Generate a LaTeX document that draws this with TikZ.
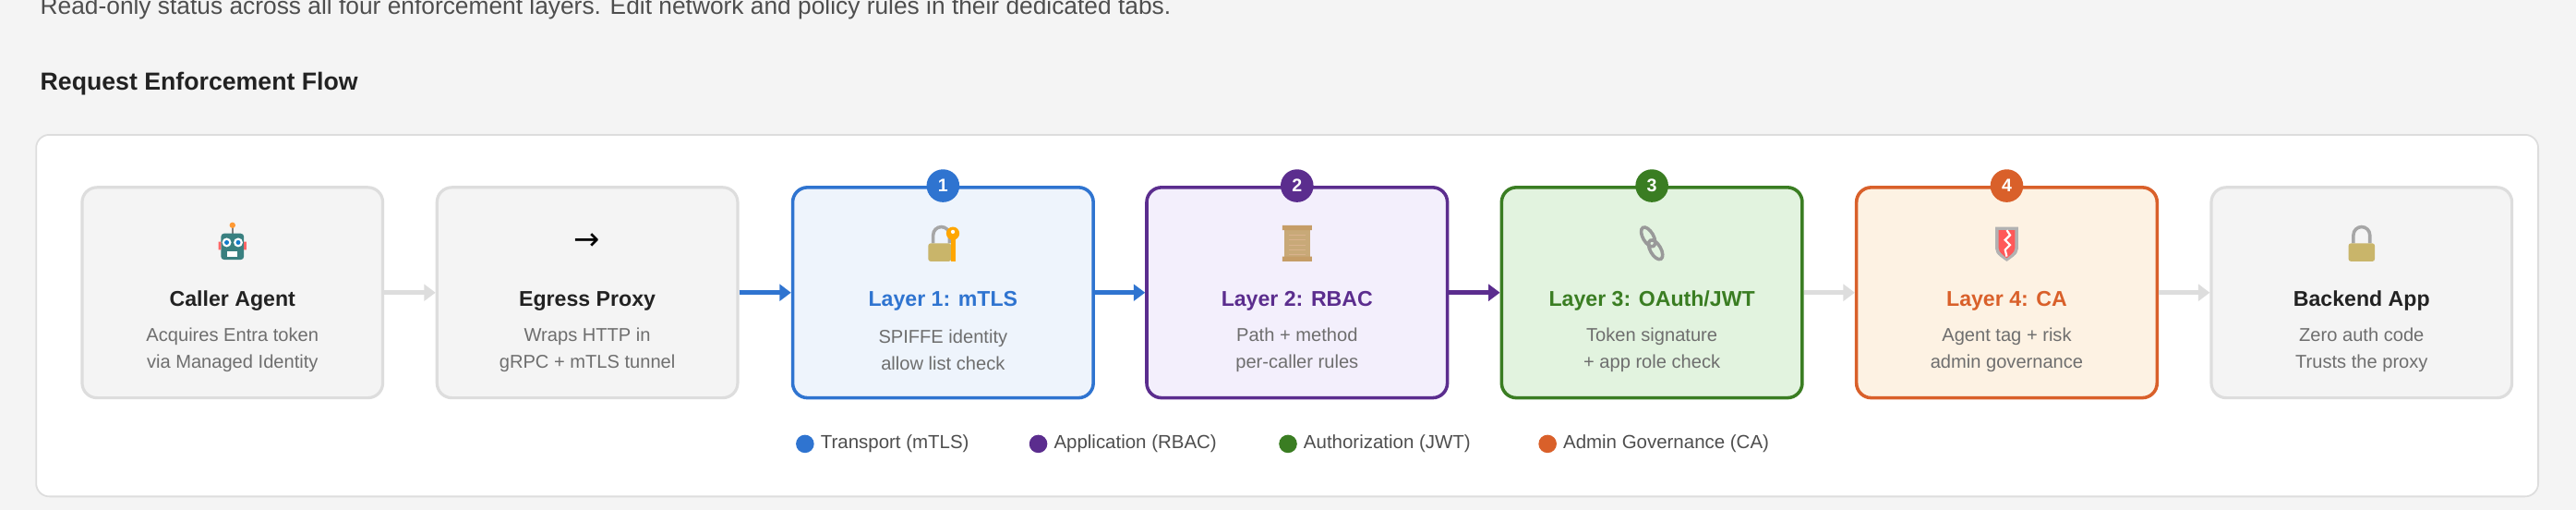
\documentclass[tikz,border=0pt]{standalone}
\usepackage{fontspec}
\setmainfont{Liberation Sans}
\newfontfamily\dejavu{DejaVu Sans}
\usetikzlibrary{arrows.meta}
\definecolor{cblue}{HTML}{2F74D0}\definecolor{fblue}{HTML}{EEF4FC}
\definecolor{cpurp}{HTML}{5B2D8E}\definecolor{fpurp}{HTML}{F3EFFC}
\definecolor{cgreen}{HTML}{3A7D22}\definecolor{fgreen}{HTML}{E2F3DF}
\definecolor{corange}{HTML}{D9602A}\definecolor{forange}{HTML}{FDF2E3}
\definecolor{gborder}{HTML}{DDDDDD}\definecolor{gfill}{HTML}{F4F4F4}
\definecolor{bg}{HTML}{F4F4F4}\definecolor{subc}{HTML}{6E6E6E}\definecolor{txt}{HTML}{222222}
\definecolor{gold}{HTML}{C9B56A}\definecolor{tan}{HTML}{C8A978}
\begin{document}
\begin{tikzpicture}[x=1pt,y=-1pt,
 box/.style={rounded corners=9pt,minimum width=183pt,minimum height=128pt,line width=#1},
 gbox/.style={box=1.8pt,draw=gborder,fill=gfill},
 ttl/.style={font=\bfseries\fontsize{13}{15}\selectfont},
 sub/.style={font=\fontsize{11.3}{16}\selectfont,text=subc,align=center},
 badge/.style={circle,minimum size=20pt,inner sep=0pt,text=white,font=\bfseries\fontsize{11}{12}\selectfont},
 arr/.style={line width=3pt,-{Triangle[length=7pt,width=10pt]}},
 ldot/.style={circle,minimum size=11pt,inner sep=0pt},
 ltx/.style={font=\fontsize{11.5}{13}\selectfont,text=txt!80,anchor=west}]
\useasboundingbox (0,0) rectangle (1568,310);
\fill[bg] (0,0) rectangle (1568,310);
\node[anchor=west,font=\fontsize{14.8}{16}\selectfont,text=txt!80] (intro) at (21,5) {Read-only status across all four enforcement layers. Edit network and policy rules in their dedicated tabs.};
\node[anchor=west,font=\bfseries\fontsize{15}{18}\selectfont,text=txt] (head) at (21,51) {Request Enforcement Flow};
\node[draw=gborder,line width=1pt,fill=white,rounded corners=8pt,minimum width=1523pt,minimum height=220pt] (panel) at (783.5,192) {};
% boxes
\node[gbox] (b1) at (141.5,178) {};
\node[gbox] (b2) at (357.5,178) {};
\node[box=2pt,draw=cblue,fill=fblue] (b3) at (574,178) {};
\node[box=2pt,draw=cpurp,fill=fpurp] (b4) at (789.5,178) {};
\node[box=2pt,draw=cgreen,fill=fgreen] (b5) at (1005.5,178) {};
\node[box=2pt,draw=corange,fill=forange] (b6) at (1221.5,178) {};
\node[gbox] (b7) at (1437.5,178) {};
% badges
\node[badge,fill=cblue] (n1) at (b3.north) {1};
\node[badge,fill=cpurp] (n2) at (b4.north) {2};
\node[badge,fill=cgreen] (n3) at (b5.north) {3};
\node[badge,fill=corange] (n4) at (b6.north) {4};
% titles
\node[ttl,text=txt] (t1) at (141.5,183) {Caller Agent};
\node[ttl,text=txt] (t2) at (357.5,183) {Egress Proxy};
\node[ttl,text=cblue] (t3) at (574,183) {Layer 1: mTLS};
\node[ttl,text=cpurp] (t4) at (789.5,183) {Layer 2: RBAC};
\node[ttl,text=cgreen] (t5) at (1005.5,183) {Layer 3: OAuth/JWT};
\node[ttl,text=corange] (t6) at (1221.5,183) {Layer 4: CA};
\node[ttl,text=txt] (t7) at (1437.5,183) {Backend App};
\node[sub] (s1) at (141.5,213) {Acquires Entra token\\via Managed Identity};
\node[sub] (s2) at (357.5,213) {Wraps HTTP in\\gRPC + mTLS tunnel};
\node[sub] (s3) at (574,213) {SPIFFE identity\\allow list check};
\node[sub] (s4) at (789.5,213) {Path + method\\per-caller rules};
\node[sub] (s5) at (1005.5,213) {Token signature\\+ app role check};
\node[sub] (s6) at (1221.5,213) {Agent tag + risk\\admin governance};
\node[sub] (s7) at (1437.5,213) {Zero auth code\\Trusts the proxy};
% icons
\node[font=\dejavu\fontsize{19}{19}\selectfont] (i2) at (357.5,147) {→};
% robot
\begin{scope}[shift={(141.5,148)}]
 \draw[gray,line width=1pt] (0,-10) -- (0,-6);\fill[orange!80] (0,-11) circle (1.8);
 \fill[teal!55!gray,rounded corners=2pt] (-7,-6) rectangle (7,10);
 \fill[white] (-3.5,-0.5) circle (2.8) (3.5,-0.5) circle (2.8);
 \fill[cyan!60!blue] (-3.5,-0.5) circle (1.4) (3.5,-0.5) circle (1.4);
 \fill[red!60] (-8.5,-1) rectangle (-7,4) (7,-1) rectangle (8.5,4);
 \fill[white] (-3,5) rectangle (3,8);
\end{scope}
% lock with key
\begin{scope}[shift={(574,148)}]
 \draw[gray!70,line width=2pt] (-6,0) -- (-6,-5) arc (180:360:5) -- (4,0);
 \fill[gold,rounded corners=1.5pt] (-9,0) rectangle (5,11);
 \fill[orange!70!yellow] (6,-6) circle (4);
 \fill[white] (6,-7) circle (1.2);
 \fill[orange!70!yellow] (4.8,-4) rectangle (7.6,11);
\end{scope}
% scroll
\begin{scope}[shift={(789.5,148)}]
 \fill[tan] (-8,-10) rectangle (8,10);
 \fill[tan!70!brown] (-9,-11) rectangle (9,-8) (-9,8) rectangle (9,11);
 \foreach \yy in {-5,-2,...,7}{\draw[brown!60,line width=.4pt] (-5,\yy) -- (5,\yy);}
\end{scope}
% chain
\begin{scope}[shift={(1005.5,148)}]
 \draw[gray!80,line width=2pt,rotate=-60] (-4.5,0) ellipse (6.5 and 3.2);
 \draw[gray!80,line width=2pt,rotate=-60] (4.5,0) ellipse (6.5 and 3.2);
\end{scope}
% shield
\begin{scope}[shift={(1221.5,148)}]
 \fill[gray!60] (-7,-10) -- (7,-10) -- (7,0) .. controls (7,6) .. (0,11) .. controls (-7,6) .. (-7,0) -- cycle;
 \fill[red!65] (-5,-8) -- (5,-8) -- (5,0) .. controls (5,5) .. (0,9) .. controls (-5,5) .. (-5,0) -- cycle;
 \draw[white,line width=1.2pt] (0,-8) -- (2,-5) -- (-1,-2) -- (2,1) -- (-1,4) -- (0,8);
\end{scope}
% padlock
\begin{scope}[shift={(1437.5,148)}]
 \draw[gray!70,line width=2pt] (-5,0) -- (-5,-5) arc (180:360:5) -- (5,0);
 \fill[gold,rounded corners=1.5pt] (-8,0) rectangle (8,11);
\end{scope}
% arrows
\draw[arr,draw=gborder] (b1.east) -- (b2.west);
\draw[arr,draw=cblue] (b2.east) -- (b3.west);
\draw[arr,draw=cblue] (b3.east) -- (b4.west);
\draw[arr,draw=cpurp] (b4.east) -- (b5.west);
\draw[arr,draw=gborder] (b5.east) -- (b6.west);
\draw[arr,draw=gborder] (b6.east) -- (b7.west);
% legend
\node[ldot,fill=cblue] (d1) at (490,270) {};
\node[ltx] (l1) at (496,270) {Transport (mTLS)};
\node[ldot,fill=cpurp] (d2) at (632,270) {};
\node[ltx] (l2) at (638,270) {Application (RBAC)};
\node[ldot,fill=cgreen] (d3) at (784,270) {};
\node[ltx] (l3) at (790,270) {Authorization (JWT)};
\node[ldot,fill=corange] (d4) at (942,270) {};
\node[ltx] (l4) at (948,270) {Admin Governance (CA)};
\end{tikzpicture}
\end{document}
